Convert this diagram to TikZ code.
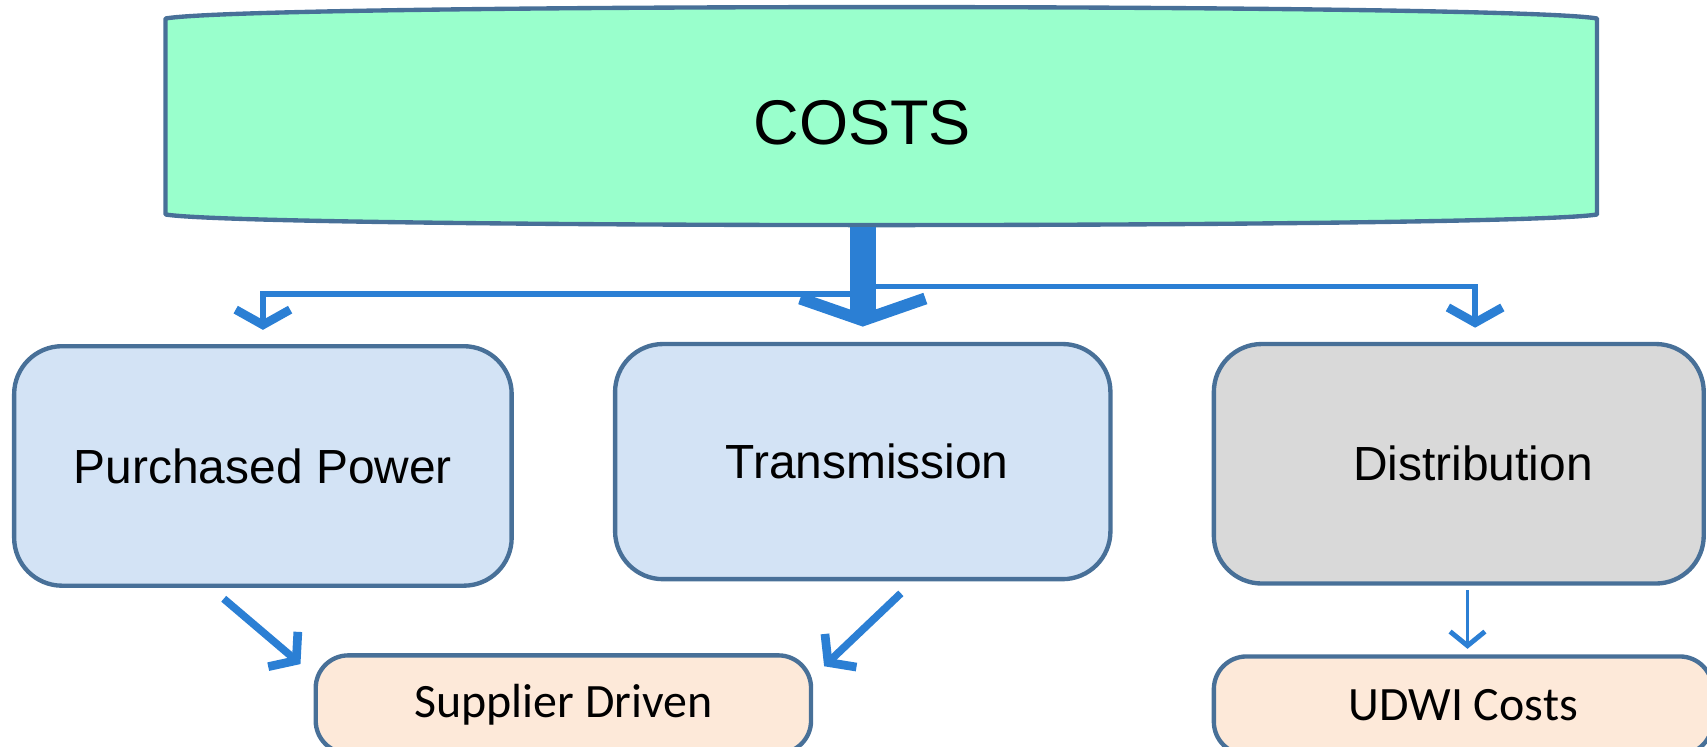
\documentclass[tikz,border=0pt]{standalone}
\usepackage{fontspec}
\setmainfont{Liberation Sans}
\newfontfamily\calib{Carlito}
\usetikzlibrary{arrows.meta,calc}
\definecolor{edge}{RGB}{72,112,152}
\definecolor{mint}{RGB}{153,255,204}
\definecolor{lblue}{RGB}{211,227,245}
\definecolor{lgray}{RGB}{217,217,217}
\definecolor{peach}{RGB}{253,233,217}
\definecolor{arr}{RGB}{43,127,212}
\tikzset{
  midbox/.style={draw=edge, line width=4pt, rounded corners=44pt, minimum width=#1, minimum height=218pt, inner sep=0pt, font=\fontsize{44}{50}\selectfont},
  lowbox/.style={draw=edge, line width=4pt, rounded corners=30pt, fill=peach, minimum height=90pt, inner sep=0pt, font=\calib\fontsize{44}{50}\selectfont},
  trunk/.style={draw=arr, line width=24pt, -{Straight Barb[length=20pt,width=115pt,line width=11pt]}},
  branch/.style={draw=arr, line width=5pt, -{Straight Barb[length=14pt,width=50pt,line width=8pt]}},
  diag/.style={draw=arr, line width=7pt, -{Straight Barb[length=16pt,width=42pt,line width=8pt]}},
  thin/.style={draw=arr, line width=3.5pt, -{Straight Barb[length=13pt,width=32pt,line width=4.5pt]}}
}
\begin{document}
\begin{tikzpicture}[x=1pt,y=-1pt]
\useasboundingbox (0,0) rectangle (1568,686);
\clip (0,0) rectangle (1568,686);
% COSTS box outline (curved top and bottom)
\draw[draw=edge, fill=mint, line width=4pt, line join=round]
  (152,197) -- (152,17) .. controls (230,3) and (1390,3) .. (1467,17)
  -- (1467,197) .. controls (1390,210) and (230,210) .. cycle;
\node[inner sep=0pt, minimum width=1315pt, minimum height=182pt] (costs) at (809.5,106) {};
\node[font=\fontsize{58}{64}\selectfont, inner sep=0pt] (coststext) at (792,113) {COSTS};
% middle boxes
\node[midbox=457pt, fill=lblue, minimum height=220pt] (pp) at (241.5,428) {Purchased Power};
\node[midbox=455pt, fill=lblue, minimum height=216pt] (tr) at (792.5,424) {\hspace*{8pt}\raisebox{-4pt}{Transmission}};
\node[midbox=450pt, fill=lgray, minimum height=220pt] (di) at (1340,426) {\hspace*{26pt}Distribution};
% lower boxes
\node[lowbox, minimum width=455pt] (sd) at (517.5,647) {Supplier Driven};
\node[lowbox, minimum width=458pt] (ud) at (1344,648) {UDWI Costs};
% connectors
\draw[branch, shorten >=13pt] (costs.south -| tr.north) ++(0,73) -| (pp.north);
\draw[branch, shorten >=13pt] (costs.south -| tr.north) ++(0,66) -| ([xshift=15pt]di.north);
\draw[trunk, shorten >=14pt] ([yshift=-11pt]costs.south -| tr.north) -- (tr.north);
\draw[diag] ([xshift=-36pt,yshift=-10pt]pp.south) -- ([xshift=-12pt,yshift=-10pt]sd.north west);
\draw[diag] ([xshift=35pt,yshift=-11pt]tr.south) -- ([xshift=10pt,yshift=-12pt]sd.north east);
\draw[thin, shorten >=5pt] ([xshift=8pt,yshift=-4pt]di.south) -- ([xshift=4pt]ud.north);
\end{tikzpicture}
\end{document}
